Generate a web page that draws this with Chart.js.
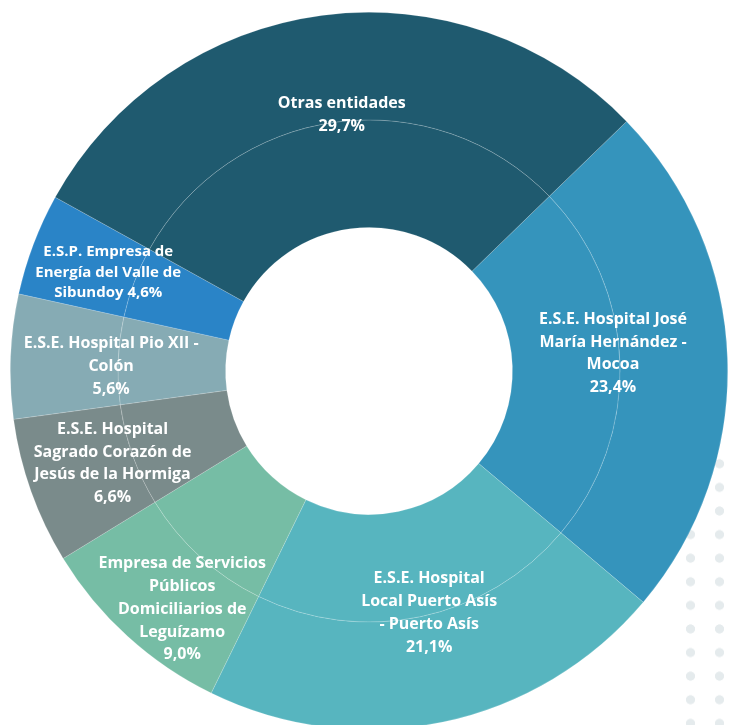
<!DOCTYPE html>
<html>
<head>
<meta charset="utf-8">
<script src="https://cdn.jsdelivr.net/npm/chart.js@4.4.1/dist/chart.umd.min.js"></script>
<style>
  html, body { margin: 0; padding: 0; background: #ffffff; width: 735px; height: 725px; overflow: hidden; position: relative; }
  #dots { position: absolute; left: 675.5px; top: 452.2px; width: 58px; height: 290px;
          background-image: radial-gradient(circle, #E5EBED 4.2px, rgba(229,235,237,0) 4.9px);
          background-size: 29px 23.6px; z-index: 0; }
  #wrap { position: absolute; left: 10px; top: 12px; width: 718px; height: 718px; z-index: 1; }
</style>
</head>
<body>
<div id="dots"></div>
<div id="wrap"><canvas id="c" width="718" height="718"></canvas></div>
<script>
// ---- data ----
const categories = [
  "E.S.E. Hospital José María Hernández - Mocoa",
  "E.S.E. Hospital Local Puerto Asís - Puerto Asís",
  "Empresa de Servicios Públicos Domiciliarios de Leguízamo",
  "E.S.E. Hospital Sagrado Corazón de Jesús de la Hormiga",
  "E.S.E. Hospital Pio XII - Colón",
  "E.S.P. Empresa de Energía del Valle de Sibundoy",
  "Otras entidades"
];
const shares = [23.4, 21.1, 9.0, 6.6, 5.6, 4.6, 29.7];
const labelLines = [
  ["E.S.E. Hospital José", "María Hernández -", "Mocoa", "23,4%"],
  ["E.S.E. Hospital", "Local Puerto Asís", "- Puerto Asís", "21,1%"],
  ["Empresa de Servicios", "Públicos", "Domiciliarios de", "Leguízamo", "9,0%"],
  ["E.S.E. Hospital", "Sagrado Corazón de", "Jesús de la Hormiga", "6,6%"],
  ["E.S.E. Hospital Pio XII -", "Colón", "5,6%"],
  ["E.S.P. Empresa de", "Energía del Valle de", "Sibundoy 4,6%"],
  ["Otras entidades", "29,7%"]
];
const colors = ["#3594BC", "#57B5BF", "#76BDA5", "#7A8B8B", "#86ABB4", "#2A84C7", "#1F5A6F"];

// label placement (radius as fraction of outer radius, angle nudge in degrees, font size, line height)
const labelPlacement = [
  { rf: 0.682, da: -2.1, fs: 16, lh: 22.5 },
  { rf: 0.694, da: -2.1, fs: 16, lh: 23 },
  { rf: 0.844, da: -4.2, fs: 16, lh: 22.8 },
  { rf: 0.760, da: -0.2, fs: 16, lh: 22.7 },
  { rf: 0.719, da: -1.4, fs: 16, lh: 23 },
  { rf: 0.777, da: 0.0, fs: 15, lh: 20.3 },
  { rf: 0.719, da: 1.5, fs: 16, lh: 23 }
];

const labelPlugin = {
  id: 'sliceLabels',
  afterDatasetsDraw(chart) {
    const ctx = chart.ctx;
    const outerMeta = chart.getDatasetMeta(0);
    ctx.save();
    ctx.fillStyle = '#ffffff';
    ctx.textAlign = 'center';
    ctx.textBaseline = 'middle';
    outerMeta.data.forEach((arc, i) => {
      const p = labelPlacement[i];
      const lines = labelLines[i];
      const mid = (arc.startAngle + arc.endAngle) / 2 + p.da * Math.PI / 180;
      const r = arc.outerRadius * p.rf;
      const x = arc.x + r * Math.cos(mid);
      const y = arc.y + r * Math.sin(mid);
      ctx.font = 'bold ' + p.fs + 'px "Open Sans", "Noto Sans", sans-serif';
      const top = y - (lines.length - 1) * p.lh / 2;
      lines.forEach((t, k) => ctx.fillText(t, x, top + k * p.lh));
    });
    ctx.restore();
  }
};

const ring = () => ({
  data: shares,
  backgroundColor: colors,
  borderColor: 'rgba(255,255,255,0.28)',
  borderWidth: 0.6,
  hoverOffset: 0
});

new Chart(document.getElementById('c'), {
  type: 'doughnut',
  data: { labels: categories, datasets: [ring(), ring()] },
  options: {
    responsive: false,
    animation: false,
    rotation: 45.9,
    cutout: '40%',
    layout: { padding: 0 },
    events: [],
    plugins: { legend: { display: false }, tooltip: { enabled: false } }
  },
  plugins: [labelPlugin]
});
</script>
</body>
</html>
